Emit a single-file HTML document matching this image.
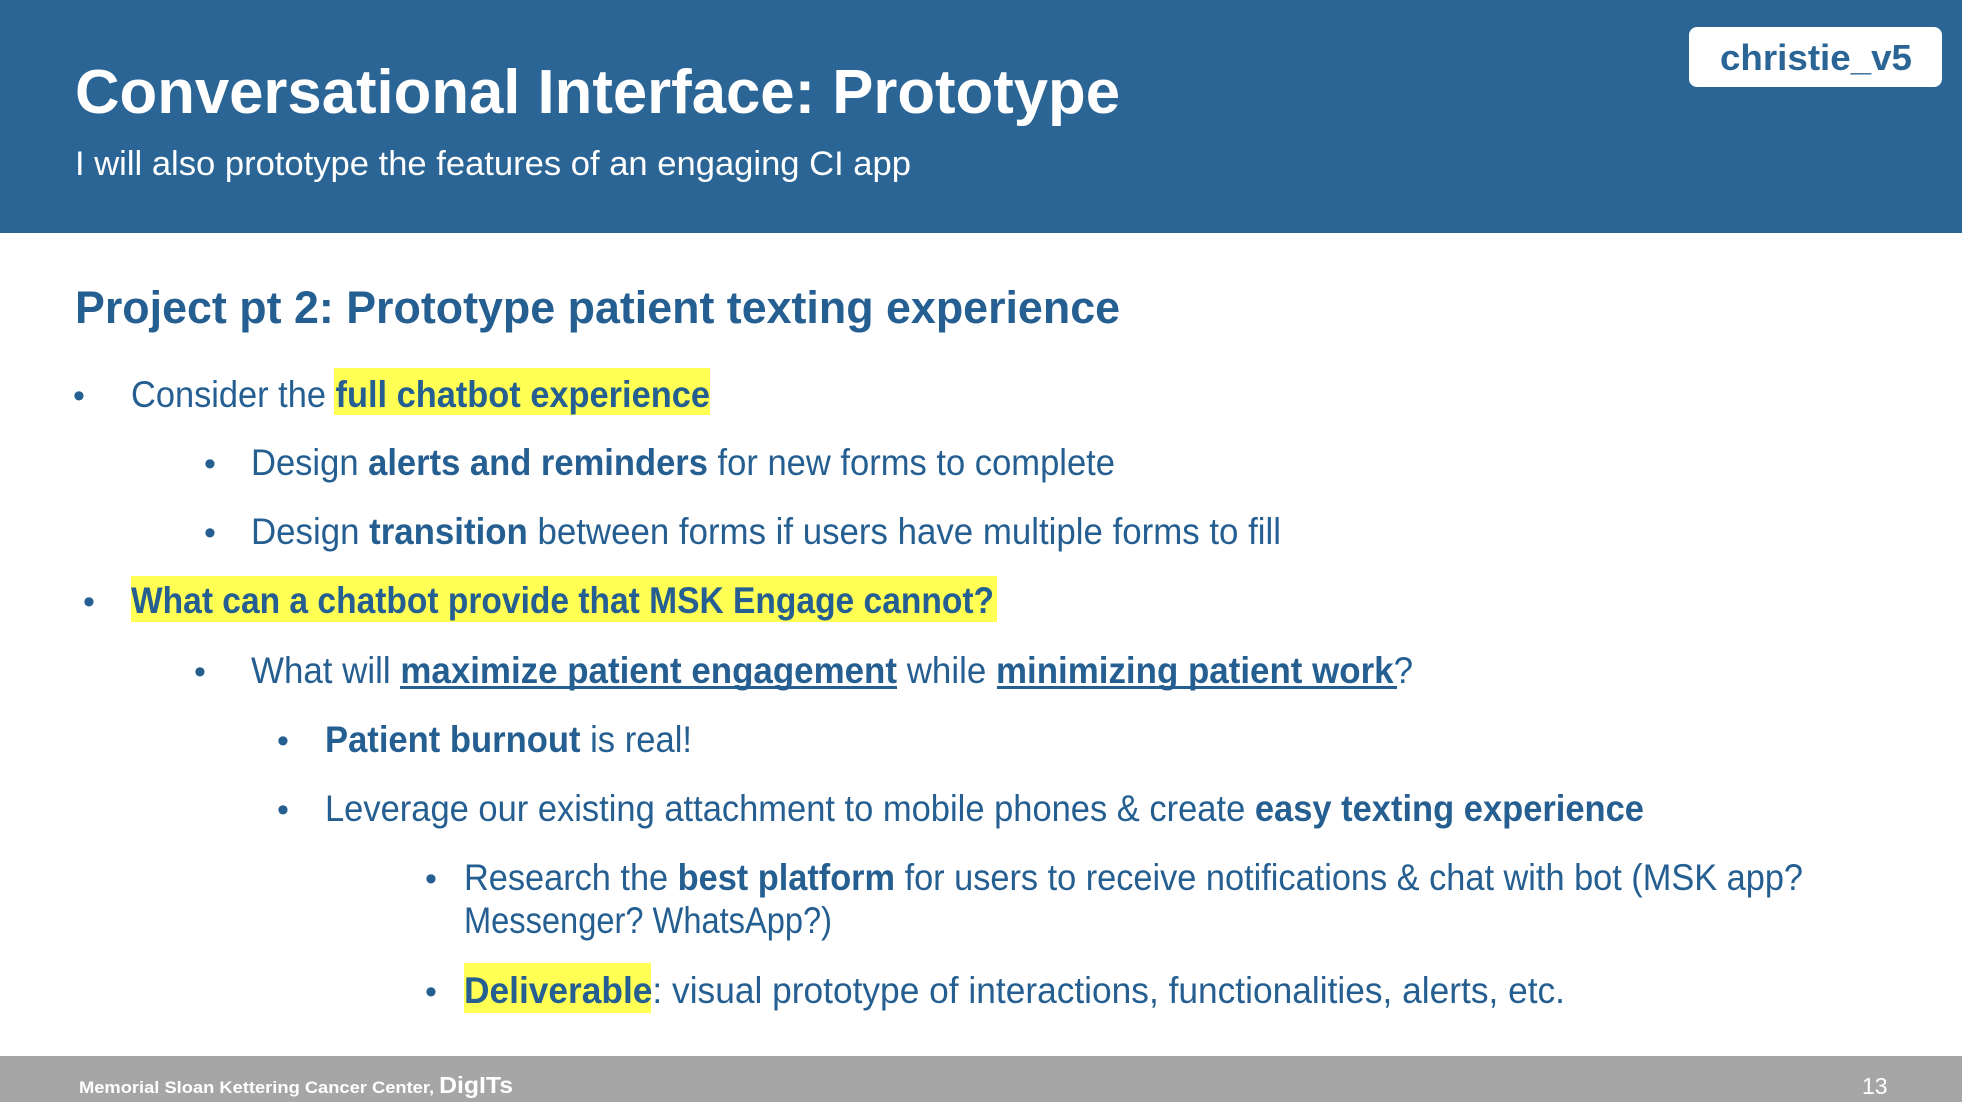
<!DOCTYPE html>
<html><head><meta charset="utf-8"><style>
html,body{margin:0;padding:0;background:#fff;}
svg{display:block;}
text{font-family:"Liberation Sans",sans-serif;}
</style></head><body>
<svg width="1962" height="1102" viewBox="0 0 1962 1102" xmlns="http://www.w3.org/2000/svg">
<rect x="0" y="0" width="1962" height="233" fill="#2a6595"/>
<text x="75" y="113" font-size="62" font-weight="bold" fill="#fff" textLength="1045" lengthAdjust="spacingAndGlyphs">Conversational Interface: Prototype</text>
<text x="75" y="175" font-size="34" fill="#fff" textLength="836" lengthAdjust="spacingAndGlyphs">I will also prototype the features of an engaging CI app</text>
<rect x="1689" y="27" width="253" height="60" rx="8" fill="#fff"/>
<text x="1720" y="70" font-size="36" font-weight="bold" fill="#2a6595" textLength="192" lengthAdjust="spacingAndGlyphs">christie_v5</text>

<g fill="#255f91">
<text x="75" y="323" font-size="45" font-weight="bold" textLength="1045" lengthAdjust="spacingAndGlyphs">Project pt 2: Prototype patient texting experience</text>

<rect x="334" y="368" width="376" height="47" fill="#ffff54"/>
<text x="73" y="407" font-size="34">•</text>
<text x="131" y="407" font-size="37" textLength="579" lengthAdjust="spacingAndGlyphs">Consider the <tspan font-weight="bold">full chatbot experience</tspan></text>

<text x="204" y="475" font-size="34">•</text>
<text x="251" y="475" font-size="37" textLength="864" lengthAdjust="spacingAndGlyphs">Design <tspan font-weight="bold">alerts and reminders</tspan> for new forms to complete</text>

<text x="204" y="544" font-size="34">•</text>
<text x="251" y="544" font-size="37" textLength="1030" lengthAdjust="spacingAndGlyphs">Design <tspan font-weight="bold">transition</tspan> between forms if users have multiple forms to fill</text>

<rect x="131" y="576" width="866" height="46" fill="#ffff54"/>
<text x="83" y="613" font-size="34">•</text>
<text x="131" y="613" font-size="37" font-weight="bold" textLength="863" lengthAdjust="spacingAndGlyphs">What can a chatbot provide that MSK Engage cannot?</text>

<text x="194" y="683" font-size="34">•</text>
<text x="251" y="683" font-size="37" textLength="1162" lengthAdjust="spacingAndGlyphs">What will <tspan font-weight="bold">maximize patient engagement</tspan> while <tspan font-weight="bold">minimizing patient work</tspan>?</text>
<rect x="400" y="686" width="497" height="3"/>
<rect x="997" y="686" width="400" height="3"/>

<text x="277" y="752" font-size="34">•</text>
<text x="325" y="752" font-size="37" textLength="367" lengthAdjust="spacingAndGlyphs"><tspan font-weight="bold">Patient burnout</tspan> is real!</text>

<text x="277" y="821" font-size="34">•</text>
<text x="325" y="821" font-size="37" textLength="1319" lengthAdjust="spacingAndGlyphs">Leverage our existing attachment to mobile phones &amp; create <tspan font-weight="bold">easy texting experience</tspan></text>

<text x="425" y="890" font-size="34">•</text>
<text x="464" y="890" font-size="37" textLength="1339" lengthAdjust="spacingAndGlyphs">Research the <tspan font-weight="bold">best platform</tspan> for users to receive notifications &amp; chat with bot (MSK app?</text>
<text x="464" y="933" font-size="37" textLength="368" lengthAdjust="spacingAndGlyphs">Messenger? WhatsApp?)</text>

<rect x="464" y="963" width="187" height="50" fill="#ffff54"/>
<text x="425" y="1003" font-size="34">•</text>
<text x="464" y="1003" font-size="37" textLength="1101" lengthAdjust="spacingAndGlyphs"><tspan font-weight="bold">Deliverable</tspan>: visual prototype of interactions, functionalities, alerts, etc.</text>
</g>

<rect x="0" y="1056" width="1962" height="46" fill="#a6a6a6"/>
<text x="79" y="1093" font-size="17" font-weight="bold" fill="#fff" textLength="434" lengthAdjust="spacingAndGlyphs">Memorial Sloan Kettering Cancer Center, <tspan font-size="23">DigITs</tspan></text>
<text x="1862" y="1094" font-size="23" fill="#fff">13</text>
</svg>
</body></html>
